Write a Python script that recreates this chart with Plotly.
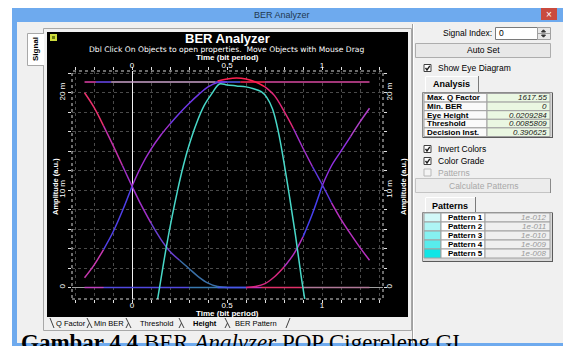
import plotly.graph_objects as go

# ---------------- data ----------------
# eye-diagram traces, amplitude in milli a.u.
t_left = [-0.25, -0.2, -0.15, -0.1, -0.05, 0.0, 0.05, 0.1, 0.15, 0.2, 0.25, 0.3, 0.35, 0.4, 0.45, 0.5]
fall_left = [20.0, 18.5, 16.6, 14.6, 12.5, 10.4, 8.4, 6.6, 5.0, 3.7, 2.8, 1.95, 1.1, 0.45, 0.1, 0.0]
rise_left = [1.0, 2.3, 3.9, 5.7, 7.9, 10.4, 12.5, 14.2, 15.6, 16.8, 17.9, 18.9, 19.8, 20.6, 21.05, 21.1]

t_right = [0.45, 0.5, 0.55, 0.6, 0.65, 0.7, 0.75, 0.8, 0.85, 0.9, 0.95, 1.0, 1.05, 1.1, 1.15, 1.2, 1.25]
fall_right = [21.2, 21.4, 21.5, 21.4, 21.1, 20.6, 19.7, 18.1, 16.3, 14.3, 12.4, 10.6, 8.7, 7.0, 5.5, 4.1, 2.8]
rise_right = [0.0, 0.0, 0.0, 0.0, 0.1, 0.4, 1.1, 2.1, 3.4, 5.2, 7.6, 10.4, 12.5, 14.0, 15.5, 17.0, 18.4]

height_t = [0.12, 0.15, 0.18, 0.21, 0.24, 0.27, 0.30, 0.34, 0.38, 0.42, 0.46, 0.50, 0.55,
            0.60, 0.64, 0.68, 0.71, 0.74, 0.77, 0.80, 0.83, 0.86, 0.89, 0.92]
height_amp = [-2.9, 0.6, 4.1, 7.2, 10.0, 12.5, 14.6, 16.9, 18.7, 19.9, 20.9, 20.8, 20.7,
              20.6, 20.4, 20.1, 19.5, 18.3, 16.0, 12.8, 9.2, 5.4, 1.2, -2.5]

top_t = [-0.25, -0.19, -0.11, 0.44, 0.57, 0.7, 1.25]
top_amp = [21.1, 21.1, 21.1, 21.1, 21.1, 21.1, 21.1]
base_t = [-0.25, -0.15, 0.3, 0.5, 0.6, 0.68, 0.9, 1.25]
base_amp = [0.0, 0.0, 0.0, 0.0, 0.0, 0.0, 0.0, 0.0]

x_tick_vals = [0, 0.5, 1]
x_tick_text = ["0", "0.5", "1"]
y_tick_vals = [0, 10, 20]
y_tick_text = ["0", "10 m", "20 m"]

analysis_labels = ["Max. Q Factor", "Min. BER", "Eye Height", "Threshold", "Decision Inst."]
analysis_values = ["1617.55", "0", "0.0209284", "0.0085809", "0.390625"]
pattern_labels = ["Pattern 1", "Pattern 2", "Pattern 3", "Pattern 4", "Pattern 5"]
pattern_values = ["1e-012", "1e-011", "1e-010", "1e-009", "1e-008"]
tab_labels = ["Q Factor", "Min BER", "Threshold", "Height", "BER Pattern"]

# ---------------- styles ----------------
fall_left_groups = [(0, 2, '#e8306c'), (2, 4, '#c030a8'), (4, 7, '#a030c8'), (7, 10, '#6a40d0'), (10, 15, '#3a70a8')]
rise_left_groups = [(0, 2, '#c838b0'), (2, 5, '#5040e8'), (5, 9, '#a030d0'), (9, 15, '#7038e8')]
fall_right_groups = [(0, 5, '#ff2050'), (5, 8, '#e02878'), (8, 10, '#a030c8'), (10, 12, '#6038e0'), (12, 16, '#b830c0')]
rise_right_groups = [(0, 3, '#4858e8'), (3, 7, '#d82880'), (7, 9, '#b030c0'), (9, 11, '#4840f0'), (11, 14, '#9030e0'), (14, 16, '#b040c8')]
top_colors = ['#e040a8', '#6a48f0', '#c8a0c8', '#5060f0', '#ff2858', '#d848a0']
base_colors = ['#c040c0', '#5048e0', '#3878b0', '#4858e8', '#c030c0', '#e03068', '#b07898']
CYAN = '#48d8c8'

UI = "Liberation Sans, Arial, sans-serif"
W, H = 563, 346


def px(x):
    return x / W


def py(y):
    return 1 - y / H


shapes = []
annos = []


def rect(x0, y0, x1, y1, fill=None, line=None, lw=1, layer='below'):
    shapes.append(dict(type='rect', xref='paper', yref='paper',
                       x0=px(x0), x1=px(x1), y0=py(y1), y1=py(y0),
                       fillcolor=fill if fill else 'rgba(0,0,0,0)',
                       line=dict(color=line if line else 'rgba(0,0,0,0)', width=lw if line else 0),
                       layer=layer))


def seg(x0, y0, x1, y1, color, w=1, layer='below'):
    shapes.append(dict(type='line', xref='paper', yref='paper',
                       x0=px(x0), x1=px(x1), y0=py(y0), y1=py(y1),
                       line=dict(color=color, width=w), layer=layer))


def path(points, color, w=1, fill=None, closed=False):
    d = "M " + " L ".join(f"{px(a):.5f},{py(b):.5f}" for a, b in points)
    if closed:
        d += " Z"
    shapes.append(dict(type='path', xref='paper', yref='paper', path=d,
                       line=dict(color=color, width=w),
                       fillcolor=fill if fill else 'rgba(0,0,0,0)', layer='below'))


def text(x, y, s, size=8, color='black', anchor='center', angle=0, family=UI):
    annos.append(dict(x=px(x), y=py(y), xref='paper', yref='paper', text=s, showarrow=False,
                      xanchor=anchor, yanchor='middle', textangle=angle, borderpad=0,
                      font=dict(size=size, color=color, family=family)))


def checkbox(x, y, label, checked=True, enabled=True):
    rect(x, y - 3.5, x + 7, y + 3.5, fill='white' if enabled else '#f4f4f4',
         line='#404040' if enabled else '#b8b8b8')
    if checked:
        path([(x + 1.5, y - 0.2), (x + 3, y + 2), (x + 5.8, y - 2.2)], '#202020', 1.4)
    text(x + 13, y, label, size=8.5, color='black' if enabled else '#a8a8a8', anchor='left')


# ---------------- window chrome ----------------
rect(12, 8, 563, 346, fill='#f0f0f0')
rect(12, 8, 563, 22, fill='#6eaaee')
rect(12, 22, 17, 346, fill='#6eaaee')
rect(12, 343, 563, 346, fill='#6eaaee')
rect(541, 8, 557, 20, fill='#c94b3f')
text(549, 14, "×", size=10, color='white')
text(282, 15, "BER Analyzer", size=9, color='#22384f')

# tab page frame and "Signal" tab
rect(43.5, 28.5, 411.5, 330.5, fill='#f0f0f0', line='#a8a8a8')
rect(27.5, 33.5, 43.5, 65.5, fill='white', line='#a8a8a8')
seg(43.5, 34, 43.5, 65, 'white', 1.5)
text(35, 49, "<b>Signal</b>", size=8, angle=-90)

# black chart panel
rect(47, 32, 408, 317, fill='black')
rect(50, 34, 57, 41, fill='#cedc3c')
rect(52, 36, 55, 39, fill='#6a7a10')
text(227, 38, "<b>BER Analyzer</b>", size=13, color='white')
text(226, 49.5, "Dbl Click On Objects to open properties.  Move Objects with Mouse Drag", size=7.6,
     color='white', family="DejaVu Sans, Verdana, sans-serif")
text(227, 58, "<b>Time (bit period)</b>", size=8, color='white')
text(227, 313.5, "<b>Time (bit period)</b>", size=8, color='white')
text(55, 187, "<b>Amplitude (a.u.)</b>", size=7.5, color='white', angle=-90)
text(403, 187, "<b>Amplitude (a.u.)</b>", size=7.5, color='white', angle=-90)

# bottom tabs
tab_centers = [71, 109, 156, 205, 256]
for lab, cx in zip(tab_labels, tab_centers):
    text(cx, 323.5, f"<b>{lab}</b>" if lab == "Height" else lab, size=7.5)
seg(50, 318, 54, 328, '#404040')
for s in [90, 129, 182, 228]:
    seg(s - 3, 318, s + 2, 328, '#404040')
    seg(s - 0.5, 323, s - 3, 328, '#404040')
seg(286, 328, 290, 318, '#404040')

# ---------------- right panel ----------------
seg(412.5, 24, 412.5, 343, '#a0a0a0')
seg(413.5, 24, 413.5, 343, 'white')
text(493, 33, "Signal Index:", size=8.5, anchor='right')
rect(495.5, 27.5, 537.5, 39.5, fill='white', line='#7a7a7a')
text(498, 33, "0", size=8.5, anchor='left')
rect(537.5, 27.5, 550.5, 39.5, fill='#e8e8e8', line='#a0a0a0')
seg(537.5, 33.5, 550.5, 33.5, '#a0a0a0')
path([(541.5, 32), (545.5, 32), (543.5, 29.8)], '#303030', 1, fill='#303030', closed=True)
path([(541.5, 35), (545.5, 35), (543.5, 37.2)], '#303030', 1, fill='#303030', closed=True)

rect(415.5, 43.5, 550.5, 57.5, fill='#e8e8e8', line='#adadad')
text(483, 50.5, "Auto Set", size=8.5)
checkbox(424, 68, "Show Eye Diagram")

# Analysis tab + table
seg(425.5, 92, 425.5, 77, 'white')
seg(425.5, 76.5, 478, 76.5, 'white')
seg(478.5, 76, 478.5, 92, '#7a7a7a')
text(451, 84.5, "<b>Analysis</b>", size=9)
rect(422.5, 92.5, 552.5, 137.5, fill='#d8d8d8', line='#8c8c8c')
seg(423, 137.5, 553, 137.5, '#5a5a5a')
seg(552.5, 93, 552.5, 138, '#5a5a5a')
row_h = 8.6
top0 = 93.5
for i, (lab, val) in enumerate(zip(analysis_labels, analysis_values)):
    y0 = top0 + i * row_h
    rect(424, y0, 487, y0 + row_h, fill='#fafafa', line='#a0a0a0')
    rect(487, y0, 550, y0 + row_h, fill='#eaf7e2', line='#a0a0a0')
    text(426, y0 + row_h / 2, f"<b>{lab}</b>", size=8, anchor='left')
    text(548, y0 + row_h / 2, f"<i>{val}</i>", size=8, anchor='right', color='#202020')

checkbox(424, 149, "Invert Colors")
checkbox(424, 161, "Color Grade")
checkbox(424, 172.5, "Patterns", checked=False, enabled=False)
rect(415.5, 178.5, 550.5, 192.5, fill='#ececec', line='#c4c4c4')
seg(550.5, 179, 550.5, 193, '#8a8a8a')
text(483, 185.5, "Calculate Patterns", size=8.5, color='#a8a8a8')

# Patterns tab + table
seg(425.5, 213, 425.5, 198, 'white')
seg(425.5, 197.5, 475, 197.5, 'white')
seg(475.5, 197, 475.5, 213, '#7a7a7a')
text(450, 205.5, "<b>Patterns</b>", size=9)
rect(422.5, 212.5, 552.5, 261.5, fill='#d8d8d8', line='#8c8c8c')
seg(423, 261.5, 553, 261.5, '#5a5a5a')
seg(552.5, 213, 552.5, 262, '#5a5a5a')
swatches = ['#d2f8f8', '#aef5f5', '#86f1f1', '#58ecec', '#10e6e6']
prow = 9.0
ptop = 213.0
for i, (lab, val) in enumerate(zip(pattern_labels, pattern_values)):
    y0 = ptop + i * prow
    rect(424, y0, 441, y0 + prow, fill=swatches[i], line='#a0a0a0')
    rect(441, y0, 485, y0 + prow, fill='white', line='#a0a0a0')
    rect(485, y0, 550, y0 + prow, fill='#efefef', line='#a0a0a0')
    text(447, y0 + prow / 2, f"<b>{lab}</b>", size=8, anchor='left')
    text(547, y0 + prow / 2, f"<i>{val}</i>", size=8, anchor='right', color='#9a9a9a')

# caption (cut off by the bottom edge, as in the reference)
annos.append(dict(x=px(19), y=py(342), xref='paper', yref='paper', showarrow=False,
                  xanchor='left', yanchor='middle',
                  text="<b>Gambar 4.4</b> BER <i>Analyzer</i> POP Cigereleng GI",
                  font=dict(size=23, color='black', family="Liberation Serif, Times New Roman, serif")))

# frame of the plot area (dotted)
shapes.append(dict(type='rect', xref='x domain', yref='y domain', x0=0, x1=1, y0=0, y1=1,
                   line=dict(color='#d8d8d8', width=1, dash='dot'), layer='above'))

# ---------------- traces ----------------
fig = go.Figure()


def add_line(xs, ys, color, width=1.5, shape='spline'):
    fig.add_trace(go.Scatter(x=xs, y=ys, mode='lines', line=dict(color=color, width=width, shape=shape),
                             hoverinfo='skip', showlegend=False))


for i, c in enumerate(base_colors):
    add_line(base_t[i:i + 2], base_amp[i:i + 2], c, shape='linear')
for i, c in enumerate(top_colors):
    add_line(top_t[i:i + 2], top_amp[i:i + 2], c, shape='linear')

for t, vals, groups in [(t_left, fall_left, fall_left_groups), (t_left, rise_left, rise_left_groups),
                        (t_right, rise_right, rise_right_groups), (t_right, fall_right, fall_right_groups)]:
    for i0, i1, c in groups:
        add_line(t[i0:i1 + 1], vals[i0:i1 + 1], c)

add_line(height_t, height_amp, CYAN, width=1.5)

# dummy trace for secondary (top/right) axes
fig.add_trace(go.Scatter(x=[None], y=[None], xaxis='x2', yaxis='y2', mode='lines',
                         showlegend=False, hoverinfo='skip'))

XR = [-0.316, 1.321]
YR = [-1.18, 22.23]
tickfont = dict(color='white', size=8, family=UI)
grid = dict(showgrid=True, gridcolor='#4a4a4a', griddash='dot', gridwidth=1)

fig.update_layout(
    width=W, height=H, margin=dict(l=0, r=0, t=0, b=0),
    paper_bgcolor='white', plot_bgcolor='black', showlegend=False, hovermode=False,
    shapes=shapes, annotations=annos,
    xaxis=dict(domain=[px(72), px(383)], range=XR, anchor='y', side='bottom',
               tickmode='array', tickvals=x_tick_vals, ticktext=x_tick_text,
               ticks='outside', ticklen=3, tickcolor='#e0e0e0', tickfont=tickfont,
               ticklabelstandoff=-5, mirror='allticks',
               zeroline=True, zerolinecolor='#f2f2f2', zerolinewidth=1, showline=False,
               minor=dict(dtick=0.1, tick0=0, ticks='outside', ticklen=3, tickcolor='#e0e0e0', **grid),
               fixedrange=True, **grid),
    yaxis=dict(domain=[py(299), py(71)], range=YR, anchor='x', side='left',
               tickmode='array', tickvals=y_tick_vals, ticktext=y_tick_text, tickangle=-90,
               ticks='outside', ticklen=3, tickcolor='#e0e0e0', tickfont=tickfont,
               mirror='allticks',
               zeroline=True, zerolinecolor='#a0a0a0', zerolinewidth=1, showline=False,
               minor=dict(dtick=2, tick0=0, ticks='outside', ticklen=3, tickcolor='#e0e0e0', **grid),
               fixedrange=True, **grid),
    xaxis2=dict(overlaying='x', side='top', anchor='y2', range=XR,
                tickmode='array', tickvals=x_tick_vals, ticktext=x_tick_text,
                ticks='', tickfont=tickfont,
                showgrid=False, zeroline=False, showline=False, fixedrange=True),
    yaxis2=dict(overlaying='y', side='right', anchor='x2', range=YR,
                tickmode='array', tickvals=y_tick_vals, ticktext=y_tick_text, tickangle=-90,
                ticks='', tickfont=tickfont,
                showgrid=False, zeroline=False, showline=False, fixedrange=True),
)

fig.write_html("out.html", config=dict(displayModeBar=False, staticPlot=True),
               post_script="document.body.style.margin='0px';document.body.style.padding='0px';")
